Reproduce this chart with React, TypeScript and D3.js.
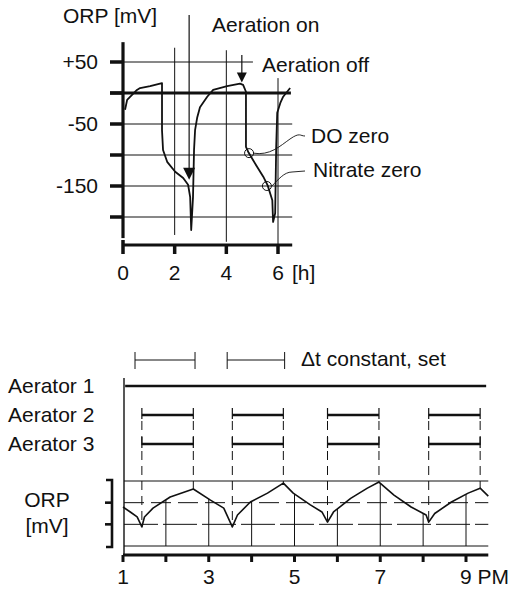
import * as d3 from "d3";

// ---- upper chart: ORP over one cycle (hours, mV)
const topCurve: [number, number][] = [
  [0.08, -27], [0.16, -11], [0.35, -3], [0.54, 5], [0.66, 8], [1.05, 11], [1.51, 16],
  [1.51, -60], [1.55, -92], [1.71, -111], [2.02, -127], [2.33, -137], [2.52, -148], [2.6, -168], [2.64, -221],
  [2.71, -168], [2.75, -92], [2.79, -60], [2.87, -40], [2.98, -23], [3.26, -6], [3.49, 5], [4.03, 11],
  [4.53, 15], [4.65, 13], [4.76, 2],
  [4.76, -87], [4.86, -96], [5.19, -119], [5.43, -135], [5.6, -149], [5.78, -173], [5.81, -208],
  [5.89, -194], [5.93, -87], [5.97, -32], [6.09, -16], [6.2, -6], [6.47, 8],
];
const topXTicks = [0, 2, 4, 6];
const topYTicks = [50, 0, -50, -100, -150, -200];
const topYLabelValues = [50, -50, -150];
const topYLabels = ["+50", "-50", "-150"];
const doZero: [number, number] = [4.88, -97];
const nitrateZero: [number, number] = [5.57, -150];
const aerationOnAt = 2.56;
const aerationOffAt = 4.6;

// ---- lower chart: aerators and ORP over the afternoon (hour of day)
const aerators = ["Aerator 1", "Aerator 2", "Aerator 3"];
const aerator1On: [number, number][] = [[1.05, 9.47]];
const aerator2On: [number, number][] = [[1.44, 2.64], [3.55, 4.74], [5.77, 6.97], [8.13, 9.33]];
const aerator3On: [number, number][] = [[1.44, 2.64], [3.55, 4.74], [5.77, 6.97], [8.13, 9.33]];
const deltaT: [number, number][] = [[1.28, 2.68], [3.43, 4.77]];
const orpCurve: [number, number][] = [
  [1.0, 1.8], [1.17, 1.57], [1.33, 1.34], [1.44, 0.88], [1.5, 1.34], [1.7, 1.75], [2.1, 2.26], [2.64, 2.63],
  [3.04, 2.12], [3.35, 1.75], [3.55, 0.88], [3.67, 1.43], [3.97, 2.03], [4.37, 2.44], [4.74, 2.9],
  [4.97, 2.44], [5.37, 1.9], [5.64, 1.57], [5.77, 1.1], [5.91, 1.57], [6.31, 2.2], [6.7, 2.67], [6.97, 2.95],
  [7.32, 2.35], [7.72, 1.8], [8.07, 1.43], [8.13, 1.1], [8.27, 1.5], [8.66, 2.03], [9.05, 2.44], [9.33, 2.67],
  [9.52, 2.3],
];
const botHours = [1, 2, 3, 4, 5, 6, 7, 8, 9];
const botLabelHours = [1, 3, 5, 7, 9];
const botLabels = ["1", "3", "5", "7", "9 PM"];
const orpLevels = [0, 1, 2, 3];

const font = "'Liberation Sans', Arial, Helvetica, sans-serif";
const ink = "#111";

function orpAt(t: number) {
  for (let i = 1; i < orpCurve.length; i++) {
    const [t0, v0] = orpCurve[i - 1];
    const [t1, v1] = orpCurve[i];
    if (t >= t0 && t <= t1) return t1 === t0 ? v1 : v0 + ((t - t0) / (t1 - t0)) * (v1 - v0);
  }
  return orpCurve[orpCurve.length - 1][1];
}

export default function App() {
  const xTop = d3.scaleLinear().domain([0, 6]).range([123, 278]);
  const yTop = d3.scaleLinear().domain([0, -150]).range([93, 186]);
  const xBot = d3.scaleLinear().domain([1, 9]).range([123, 466]);
  const yOrp = d3.scaleLinear().domain([0, 3]).range([546, 481]);
  const rowY = d3.scalePoint<string>().domain(aerators).range([386, 444]);

  const topLine = d3.line<[number, number]>().x(d => xTop(d[0])).y(d => yTop(d[1]));
  const orpLine = d3.line<[number, number]>().x(d => xBot(d[0])).y(d => yOrp(d[1]));

  // grid ends (in data units) per horizontal line of the upper chart
  const gridEnd = (v: number) => (v === 50 ? 5.03 : 6.55);
  const vGrid: [number, number, number][] = [[2, 73, -229], [4, 69, -240], [6, 24, -245]];

  const onX = xTop(aerationOnAt);
  const offX = xTop(aerationOffAt);
  const onTip = yTop(-140);
  const offTip = yTop(17);

  const aY = rowY("Aerator 1")!;
  const bY = rowY("Aerator 2")!;
  const cY = rowY("Aerator 3")!;
  const dtY = 360;

  const seg = (rows: [number, number][], y: number, w: number, key: string, ticks: boolean) =>
    rows.map((r, i) => (
      <g key={key + i}>
        <line x1={xBot(r[0])} x2={xBot(r[1])} y1={y} y2={y} stroke={ink} strokeWidth={w} />
        {ticks && r.map((t, j) => (
          <line key={j} x1={xBot(t)} x2={xBot(t)} y1={y - 7} y2={y + 4} stroke={ink} strokeWidth={1.2} />
        ))}
      </g>
    ));

  return (
    <svg width={515} height={590} style={{ position: "absolute", left: 0, top: 0, background: "#fff" }}
      fontFamily={font} fontSize={21} fill={ink}>
      {/* ===== upper chart ===== */}
      {topYTicks.filter(v => v !== 0).map(v => (
        <line key={"hg" + v} x1={xTop(0)} x2={xTop(gridEnd(v))} y1={yTop(v)} y2={yTop(v)} stroke={ink} strokeWidth={1} />
      ))}
      {vGrid.map(([t, a, b]) => (
        <line key={"vg" + t} x1={xTop(t)} x2={xTop(t)} y1={yTop(a)} y2={yTop(b)} stroke={ink} strokeWidth={1} />
      ))}
      <line x1={110} x2={xTop(6.5)} y1={yTop(0)} y2={yTop(0)} stroke={ink} strokeWidth={3.2} />
      {/* y axis */}
      <line x1={xTop(0)} x2={xTop(0)} y1={yTop(82)} y2={yTop(-234)} stroke={ink} strokeWidth={3.2} />
      {topYTicks.map(v => (
        <line key={"yt" + v} x1={110} x2={xTop(0)} y1={yTop(v)} y2={yTop(v)} stroke={ink} strokeWidth={3.5} />
      ))}
      {topYLabelValues.map((v, i) => (
        <text key={"yl" + v} x={98} y={yTop(v) + 7} textAnchor="end">{topYLabels[i]}</text>
      ))}
      <text x={63} y={23}>ORP [mV]</text>
      {/* x axis */}
      <line x1={xTop(0)} x2={xTop(6.55)} y1={245} y2={245} stroke={ink} strokeWidth={3.2} />
      {topXTicks.map(t => (
        <g key={"xt" + t}>
          <line x1={xTop(t)} x2={xTop(t)} y1={t === 0 ? 240 : 245} y2={254} stroke={ink} strokeWidth={3.5} />
          <text x={xTop(t)} y={280} textAnchor="middle">{t}</text>
        </g>
      ))}
      <text x={xTop(6) + 14} y={280}>[h]</text>
      {/* curve */}
      <path d={topLine(topCurve) ?? ""} fill="none" stroke={ink} strokeWidth={1.8} strokeLinejoin="round" />
      {/* aeration on */}
      <line x1={onX} x2={onX} y1={15} y2={onTip - 8} stroke={ink} strokeWidth={1.2} />
      <path d={`M${onX - 6},${onTip - 12} L${onX + 6},${onTip - 12} L${onX},${onTip} Z`} fill={ink} />
      <text x={212} y={32}>Aeration on</text>
      {/* aeration off */}
      <line x1={offX} x2={offX} y1={55} y2={offTip - 6} stroke={ink} strokeWidth={1.2} />
      <path d={`M${offX - 5},${offTip - 10} L${offX + 5},${offTip - 10} L${offX},${offTip} Z`} fill={ink} />
      <text x={262} y={72}>Aeration off</text>
      {/* DO / nitrate markers */}
      <circle cx={xTop(doZero[0])} cy={yTop(doZero[1])} r={4.5} fill="none" stroke={ink} strokeWidth={1} />
      <circle cx={xTop(nitrateZero[0])} cy={yTop(nitrateZero[1])} r={4.5} fill="none" stroke={ink} strokeWidth={1} />
      <path d={`M${xTop(doZero[0]) + 4},${yTop(doZero[1])} C${270},${156} ${280},${146} ${290},${139} S${300},${136} ${305},${136}`}
        fill="none" stroke={ink} strokeWidth={0.9} />
      <path d={`M${xTop(nitrateZero[0]) + 5},${yTop(nitrateZero[1])} C${278},${180} ${284},${172} ${292},${172} L${305},${171}`}
        fill="none" stroke={ink} strokeWidth={0.9} />
      <text x={311} y={143}>DO zero</text>
      <text x={313} y={177}>Nitrate zero</text>

      {/* ===== lower chart ===== */}
      {deltaT.map((r, i) => (
        <g key={"dt" + i}>
          <line x1={xBot(r[0])} x2={xBot(r[1])} y1={dtY} y2={dtY} stroke={ink} strokeWidth={1} />
          {r.map((t, j) => (
            <line key={j} x1={xBot(t)} x2={xBot(t)} y1={dtY - 8} y2={dtY + 9} stroke={ink} strokeWidth={1} />
          ))}
        </g>
      ))}
      <text x={301} y={366}>Δt constant, set</text>

      {aerators.map(a => (
        <text key={a} x={8} y={rowY(a)! + 7}>{a}</text>
      ))}
      <line x1={124} x2={124} y1={378} y2={556} stroke={ink} strokeWidth={1.4} />
      {seg(aerator1On, aY, 2.6, "a1", false)}
      {seg(aerator2On, bY, 2.6, "a2", true)}
      {seg(aerator3On, cY, 2.6, "a3", true)}
      {/* dashed switching lines */}
      {aerator2On.flat().map((t, i) => (
        <line key={"sw" + i} x1={xBot(t)} x2={xBot(t)} y1={bY + 6} y2={yOrp(orpAt(t))}
          stroke={ink} strokeWidth={1} strokeDasharray="9,6" />
      ))}

      {/* ORP panel */}
      <line x1={124} x2={xBot(9.52)} y1={yOrp(3)} y2={yOrp(3)} stroke={ink} strokeWidth={1} />
      <line x1={124} x2={xBot(9.52)} y1={yOrp(2)} y2={yOrp(2)} stroke={ink} strokeWidth={1} strokeDasharray="20,7" />
      <line x1={124} x2={xBot(9.52)} y1={yOrp(1)} y2={yOrp(1)} stroke={ink} strokeWidth={1} strokeDasharray="34,5" />
      <line x1={124} x2={xBot(9.52)} y1={yOrp(0)} y2={yOrp(0)} stroke={ink} strokeWidth={1} />
      {botHours.filter(h => h > 1).map(h => (
        <line key={"dl" + h} x1={xBot(h)} x2={xBot(h)} y1={yOrp(orpAt(h))} y2={yOrp(0)} stroke={ink} strokeWidth={1} />
      ))}
      <path d={orpLine(orpCurve) ?? ""} fill="none" stroke={ink} strokeWidth={1.6} strokeLinejoin="round" />
      {/* bracket */}
      <path d={`M106,${yOrp(3) - 1} L112,${yOrp(3) - 1} L112,${yOrp(0) + 1} L106,${yOrp(0) + 1}`}
        fill="none" stroke={ink} strokeWidth={2.6} />
      {orpLevels.slice(1, 3).map(v => (
        <line key={"bt" + v} x1={105} x2={112} y1={yOrp(v)} y2={yOrp(v)} stroke={ink} strokeWidth={2.6} />
      ))}
      <text x={47} y={507} textAnchor="middle">ORP</text>
      <text x={47} y={533} textAnchor="middle">[mV]</text>

      {/* bottom axis */}
      <line x1={123} x2={xBot(9.52)} y1={555} y2={555} stroke={ink} strokeWidth={3.2} />
      {botHours.map(h => (
        <line key={"bx" + h} x1={xBot(h)} x2={xBot(h)} y1={555} y2={562} stroke={ink} strokeWidth={3} />
      ))}
      {botLabelHours.map((h, i) => (
        <text key={"bl" + h} x={h === 9 ? xBot(h) - 6 : xBot(h)} y={584}
          textAnchor={h === 9 ? "start" : "middle"}>{botLabels[i]}</text>
      ))}
    </svg>
  );
}
